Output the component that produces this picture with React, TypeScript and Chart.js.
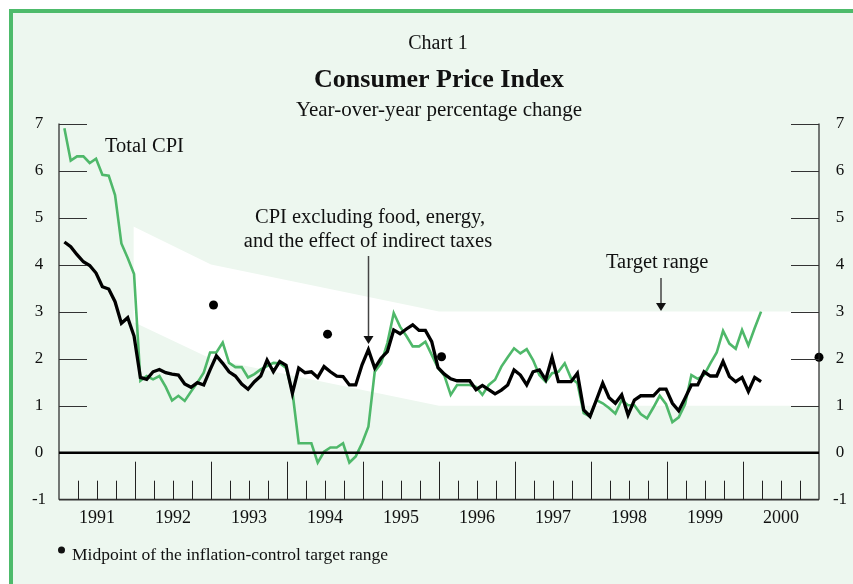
import React, { useEffect, useRef } from 'react';
import { Chart, registerables } from 'chart.js';

Chart.register(...registerables);

// ---- Data (monthly, Jan 1991 = month 0) ----
const yearLabels = ['1991', '1992', '1993', '1994', '1995', '1996', '1997', '1998', '1999', '2000'];
const yTickValues = [-1, 0, 1, 2, 3, 4, 5, 6, 7];
const monthOffset = 0.85;

const totalCPI = [
  6.9, 6.21, 6.3, 6.3, 6.16, 6.25, 5.91, 5.89, 5.48, 4.45, 4.14, 3.8,
  1.53, 1.63, 1.56, 1.63, 1.4, 1.11, 1.21, 1.1, 1.3, 1.49, 1.7, 2.13,
  2.13, 2.34, 1.91, 1.82, 1.82, 1.6, 1.67, 1.77, 1.84, 1.91, 1.9, 1.8,
  1.3, 0.2, 0.2, 0.2, -0.21, 0.02, 0.11, 0.11, 0.2, -0.21, -0.08, 0.2,
  0.55, 1.72, 1.9, 2.33, 2.97, 2.68, 2.48, 2.26, 2.26, 2.36, 2.08, 1.8,
  1.64, 1.23, 1.44, 1.44, 1.44, 1.4, 1.23, 1.44, 1.55, 1.83, 2.03, 2.22,
  2.11, 2.2, 1.97, 1.65, 1.51, 1.69, 1.72, 1.9, 1.58, 1.48, 0.84, 0.77,
  1.12, 1.05, 0.95, 0.83, 1.12, 1.01, 1.01, 0.82, 0.73, 0.96, 1.21, 1.03,
  0.65, 0.75, 1.03, 1.65, 1.57, 1.65, 1.9, 2.13, 2.59, 2.32, 2.21, 2.61,
  2.28, 2.65, 3.0,
];

const coreCPI = [
  4.48, 4.38, 4.21, 4.06, 3.98, 3.82, 3.53, 3.48, 3.21, 2.75, 2.87, 2.48,
  1.6, 1.56, 1.72, 1.77, 1.7, 1.67, 1.65, 1.46, 1.39, 1.49, 1.44, 1.76,
  2.06, 1.9, 1.72, 1.63, 1.46, 1.35, 1.51, 1.63, 1.97, 1.72, 1.94, 1.86,
  1.26, 1.8, 1.7, 1.72, 1.6, 1.83, 1.72, 1.63, 1.62, 1.44, 1.44, 1.87,
  2.19, 1.8, 2.01, 2.15, 2.61, 2.53, 2.63, 2.72, 2.6, 2.6, 2.36, 1.81,
  1.67, 1.57, 1.53, 1.53, 1.53, 1.34, 1.43, 1.34, 1.25, 1.33, 1.44, 1.76,
  1.65, 1.44, 1.72, 1.76, 1.55, 2.03, 1.51, 1.51, 1.51, 1.69, 0.91, 0.77,
  1.12, 1.48, 1.17, 1.05, 1.23, 0.8, 1.12, 1.21, 1.21, 1.21, 1.35, 1.35,
  1.05, 0.89, 1.16, 1.44, 1.44, 1.72, 1.63, 1.63, 1.94, 1.62, 1.51, 1.6,
  1.3, 1.6, 1.51,
];

const bandMonths = [11.75, 24, 60, 120];
const bandUpper = [4.81, 4.0, 3.0, 3.0];
const bandLower = [2.78, 2.0, 1.0, 1.0];

const midpointMonths = [24.4, 42.4, 60.4, 120];
const midpointValues = [3.14, 2.52, 2.04, 2.03];

const SERIF = '"Liberation Serif", "Times New Roman", serif';
const PANEL_BG = '#edf7ef';
const BORDER_GREEN = '#4dbb6b';
const LINE_GREEN = '#4fb86a';

function drawArrow(ctx: CanvasRenderingContext2D, x: number, y1: number, y2: number) {
  ctx.save();
  ctx.strokeStyle = '#444';
  ctx.fillStyle = '#111';
  ctx.lineWidth = 1.5;
  ctx.beginPath();
  ctx.moveTo(x, y1);
  ctx.lineTo(x, y2 - 6);
  ctx.stroke();
  ctx.beginPath();
  ctx.moveTo(x - 5, y2 - 8);
  ctx.lineTo(x + 5, y2 - 8);
  ctx.lineTo(x, y2);
  ctx.closePath();
  ctx.fill();
  ctx.restore();
}

const decorPlugin = {
  id: 'decor',
  beforeDraw(chart: any) {
    const ctx: CanvasRenderingContext2D = chart.ctx;
    const W = chart.width, H = chart.height;
    ctx.save();
    ctx.fillStyle = '#ffffff';
    ctx.fillRect(0, 0, W, H);
    ctx.fillStyle = PANEL_BG;
    ctx.fillRect(9, 9, W - 9, H - 9);
    ctx.fillStyle = BORDER_GREEN;
    ctx.fillRect(9, 9, 4, H - 9);
    ctx.fillRect(9, 9, W - 9, 4);

    ctx.fillStyle = '#111';
    ctx.textAlign = 'center';
    ctx.textBaseline = 'middle';
    ctx.font = `20px ${SERIF}`;
    ctx.fillText('Chart 1', 438, 44);
    ctx.font = `bold 26px ${SERIF}`;
    ctx.fillText('Consumer Price Index', 439, 80);
    ctx.font = `21px ${SERIF}`;
    ctx.fillText('Year-over-year percentage change', 439, 110);
    ctx.restore();
  },
  afterDatasetsDraw(chart: any) {
    const ctx: CanvasRenderingContext2D = chart.ctx;
    const xs = chart.scales.x, ys = chart.scales.y;
    const L = xs.getPixelForValue(0), R = xs.getPixelForValue(120);
    const T = ys.getPixelForValue(7), B = ys.getPixelForValue(-1);
    const Z = ys.getPixelForValue(0);
    ctx.save();
    // axes frame
    ctx.strokeStyle = '#222';
    ctx.lineWidth = 1.2;
    ctx.beginPath();
    ctx.moveTo(L, T); ctx.lineTo(L, B);
    ctx.moveTo(R, T); ctx.lineTo(R, B);
    ctx.stroke();
    ctx.lineWidth = 1.8;
    ctx.strokeStyle = '#333';
    ctx.beginPath();
    ctx.moveTo(L, B); ctx.lineTo(R, B);
    ctx.stroke();
    // zero line
    ctx.strokeStyle = '#000';
    ctx.lineWidth = 2.5;
    ctx.beginPath();
    ctx.moveTo(L, Z); ctx.lineTo(R, Z);
    ctx.stroke();
    // y ticks
    ctx.strokeStyle = '#333';
    ctx.lineWidth = 1.2;
    ctx.beginPath();
    yTickValues.filter((v) => v > 0).forEach((v) => {
      const y = Math.round(ys.getPixelForValue(v)) + 0.5;
      ctx.moveTo(L, y); ctx.lineTo(L + 28, y);
      ctx.moveTo(R - 28, y); ctx.lineTo(R, y);
    });
    ctx.stroke();
    // x ticks (quarters, years)
    ctx.strokeStyle = '#222';
    ctx.lineWidth = 1;
    ctx.beginPath();
    for (let m = 3; m < yearLabels.length * 12; m += 3) {
      const x = Math.round(xs.getPixelForValue(m)) + 0.5;
      const len = m % 12 === 0 ? 38 : 19;
      ctx.moveTo(x, B); ctx.lineTo(x, B - len);
    }
    ctx.stroke();
    // tick labels
    ctx.fillStyle = '#111';
    ctx.textBaseline = 'middle';
    ctx.textAlign = 'center';
    ctx.font = `17px ${SERIF}`;
    yTickValues.forEach((v) => {
      const y = ys.getPixelForValue(v);
      ctx.fillText(String(v), L - 20, y);
      ctx.fillText(String(v), R + 21, y);
    });
    ctx.font = `18px ${SERIF}`;
    yearLabels.forEach((lab, k) => {
      ctx.fillText(lab, xs.getPixelForValue(k * 12 + 6), B + 19);
    });
    ctx.restore();
  },
  afterDraw(chart: any) {
    const ctx: CanvasRenderingContext2D = chart.ctx;
    ctx.save();
    ctx.fillStyle = '#111';
    ctx.textBaseline = 'alphabetic';
    ctx.font = `20.5px ${SERIF}`;
    ctx.textAlign = 'left';
    ctx.fillText('Total CPI', 105, 152);
    ctx.fillText('Target range', 606, 268);
    ctx.textAlign = 'center';
    ctx.fillText('CPI excluding food, energy,', 370, 223);
    ctx.fillText('and the effect of indirect taxes', 368, 247);
    drawArrow(ctx, 368.5, 256, 344);
    drawArrow(ctx, 661, 278, 311);
    // legend
    ctx.beginPath();
    ctx.arc(61.5, 550, 3.5, 0, Math.PI * 2);
    ctx.fill();
    ctx.textAlign = 'left';
    ctx.textBaseline = 'middle';
    ctx.font = `17.5px ${SERIF}`;
    ctx.fillText('Midpoint of the inflation-control target range', 72, 555);
    ctx.restore();
  },
};

export default function App() {
  const ref = useRef<HTMLCanvasElement | null>(null);
  useEffect(() => {
    if (!ref.current) return;
    const chart = new Chart(ref.current, {
      type: 'line',
      data: {
        datasets: [
          {
            label: 'Target range upper',
            data: bandMonths.map((m, i) => ({ x: m, y: bandUpper[i] })),
            fill: '+1',
            backgroundColor: '#ffffff',
            borderColor: 'rgba(0,0,0,0)',
            borderWidth: 0,
            pointRadius: 0,
            tension: 0,
            order: 10,
          } as any,
          {
            label: 'Target range lower',
            data: bandMonths.map((m, i) => ({ x: m, y: bandLower[i] })),
            fill: false,
            borderColor: 'rgba(0,0,0,0)',
            borderWidth: 0,
            pointRadius: 0,
            tension: 0,
            order: 11,
          } as any,
          {
            label: 'Total CPI',
            data: totalCPI.map((v, i) => ({ x: i + monthOffset, y: v })),
            borderColor: LINE_GREEN,
            borderWidth: 2.6,
            pointRadius: 0,
            tension: 0,
            fill: false,
            order: 2,
          } as any,
          {
            label: 'CPI excluding food, energy, and the effect of indirect taxes',
            data: coreCPI.map((v, i) => ({ x: i + monthOffset, y: v })),
            borderColor: '#000000',
            borderWidth: 3.3,
            pointRadius: 0,
            tension: 0,
            fill: false,
            order: 1,
          } as any,
          {
            label: 'Midpoint of the inflation-control target range',
            data: midpointMonths.map((m, i) => ({ x: m, y: midpointValues[i] })),
            showLine: false,
            pointRadius: 4.5,
            pointBackgroundColor: '#000',
            pointBorderWidth: 0,
            borderColor: '#000',
            clip: false,
            order: 0,
          } as any,
        ],
      },
      options: {
        responsive: false,
        animation: false,
        devicePixelRatio: 1,
        events: [],
        layout: { padding: { left: 59, right: 34, top: 123.5, bottom: 84.3 } },
        scales: {
          x: { type: 'linear', min: 0, max: 120, display: false },
          y: { type: 'linear', min: -1, max: 7, display: false },
        },
        plugins: {
          legend: { display: false },
          tooltip: { enabled: false },
        },
      },
      plugins: [decorPlugin],
    });
    return () => chart.destroy();
  }, []);
  return (
    <div style={{ position: 'fixed', left: 0, top: 0, width: 853, height: 584 }}>
      <canvas ref={ref} width={853} height={584} style={{ display: 'block' }} />
    </div>
  );
}
